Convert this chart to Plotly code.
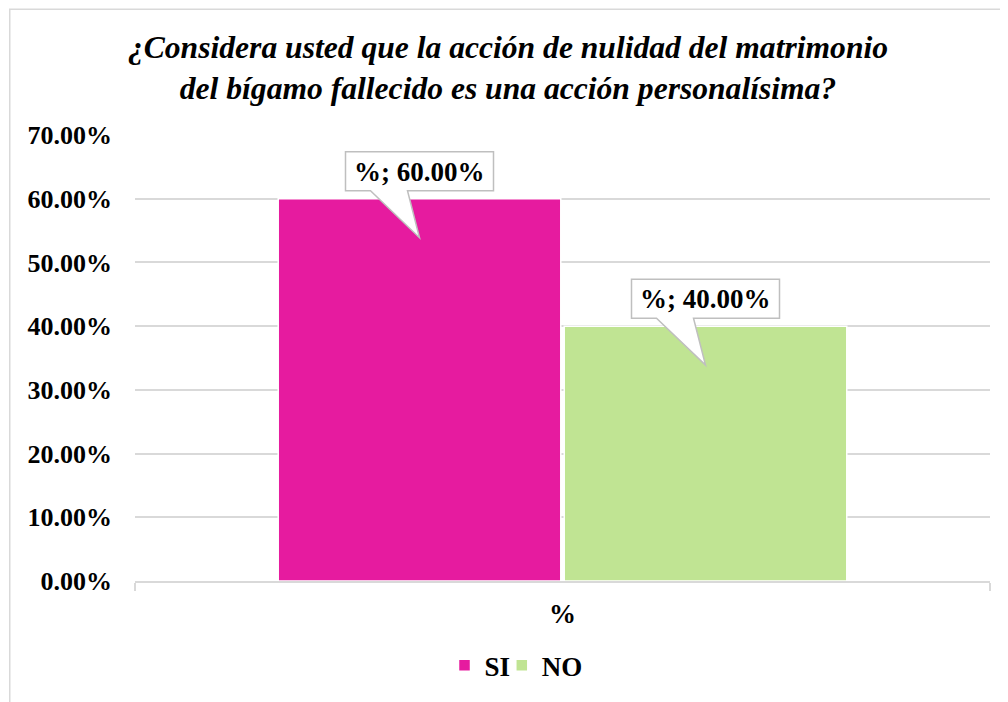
import plotly.graph_objects as go

# data
categories = ['%']
series_names = ['SI', 'NO']
series_values = [60.0, 40.0]
series_colors = ['#E61B9F', '#C0E493']
y_ticks = [0, 10, 20, 30, 40, 50, 60, 70]

title_lines = [
    '¿Considera usted que la acción de nulidad del matrimonio',
    'del bígamo fallecido es una acción personalísima?',
]

SERIF = 'Liberation Serif, Times New Roman, serif'
GRID = '#d9d9d9'
BARGAP = 0.331
BARGROUPGAP = 0.012

# one legend box per series so the entries sit close together
legend_ids = ['legend', 'legend2']
legend_x = [0.362, 0.429]

fig = go.Figure()
for name, value, color, lg in zip(series_names, series_values, series_colors, legend_ids):
    fig.add_trace(go.Bar(
        x = categories,
        y = [value],
        name = name,
        legend = lg,
        marker = dict(color = color, line = dict(color = 'white', width = 1.5)),
    ))

# callouts: box + pointer drawn in pixels, anchored on top of each bar
n = len(series_values)
slot = (1 - BARGAP) / n
for i, (name, value) in enumerate(zip(series_names, series_values)):
    xc = -0.5 * (1 - BARGAP) + slot * (i + 0.5)
    fig.add_shape(
        type = 'path',
        xref = 'x', yref = 'y',
        xsizemode = 'pixel', ysizemode = 'pixel',
        xanchor = xc, yanchor = value,
        path = 'M -74,8 L -49,8 L 0,-39 L -12,8 L 74,8 L 74,47 L -74,47 Z',
        fillcolor = 'white',
        line = dict(color = '#bfbfbf', width = 1.5),
        layer = 'above',
    )
    fig.add_annotation(
        x = xc, y = value,
        xref = 'x', yref = 'y',
        text = f'<b>{categories[0]}; {value:.2f}%</b>',
        showarrow = False,
        yanchor = 'bottom',
        yshift = 10,
        font = dict(family = SERIF, size = 27, color = 'black'),
    )

legend_style = dict(
    orientation = 'h',
    xanchor = 'left',
    y = -0.19, yanchor = 'middle',
    font = dict(family = SERIF, size = 27, color = 'black', weight = 'bold'),
    itemwidth = 30,
    bgcolor = 'rgba(0,0,0,0)',
)

fig.update_layout(
    width = 1000,
    height = 694,
    paper_bgcolor = 'white',
    plot_bgcolor = 'white',
    barmode = 'group',
    bargap = BARGAP,
    bargroupgap = BARGROUPGAP,
    margin = dict(l = 127, r = 18, t = 127, b = 119),
    title = dict(
        text = '<b><i>' + '<br>'.join(title_lines) + '</i></b>',
        x = 0.5, xanchor = 'center',
        y = 0.928, yanchor = 'middle',
        font = dict(family = SERIF, size = 31.6, color = 'black'),
    ),
    font = dict(family = SERIF, color = 'black'),
    showlegend = True,
    legend = dict(legend_style, x = legend_x[0]),
    legend2 = dict(legend_style, x = legend_x[1]),
    shapes = list(fig.layout.shapes) + [dict(
        type = 'rect', xref = 'paper', yref = 'paper',
        x0 = -0.1465, x1 = 1.1, y0 = -0.5, y1 = 1.282,
        line = dict(color = GRID, width = 1.5),
        fillcolor = 'rgba(0,0,0,0)',
        layer = 'below',
    )],
)

fig.update_xaxes(
    type = 'category',
    showgrid = False,
    showline = True,
    linecolor = GRID,
    linewidth = 1.5,
    ticks = 'outside',
    tickson = 'boundaries',
    ticklen = 8,
    tickcolor = GRID,
    tickwidth = 1.5,
    ticklabelstandoff = 8,
    tickfont = dict(family = SERIF, size = 27, color = 'black', weight = 'bold'),
)
fig.update_yaxes(
    range = [0, 70],
    tickvals = y_ticks,
    ticktext = [f'{v:.2f}%' for v in y_ticks],
    showgrid = True,
    gridcolor = GRID,
    gridwidth = 1.5,
    zeroline = False,
    ticks = '',
    ticklabelstandoff = 22,
    tickfont = dict(family = SERIF, size = 26, color = 'black', weight = 'bold'),
)

fig.write_html('out.html')
